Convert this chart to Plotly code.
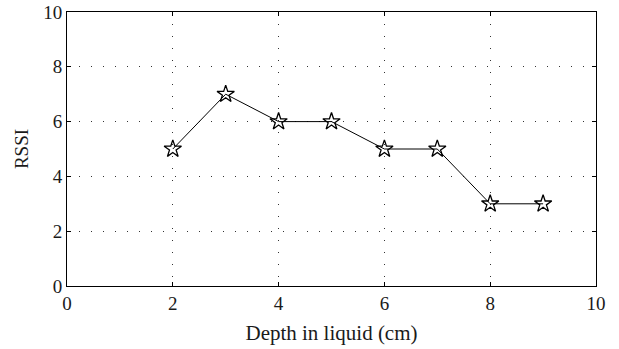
import plotly.graph_objects as go

depth = [2, 3, 4, 5, 6, 7, 8, 9]
rssi = [5, 7, 6, 6, 5, 5, 3, 3]
x_ticks = [0, 2, 4, 6, 8, 10]
y_ticks = [0, 2, 4, 6, 8, 10]

font = "Liberation Serif"
txt = "#1a1a1a"

fig = go.Figure()
fig.add_trace(go.Scatter(
    x=depth, y=rssi, mode="lines+markers",
    line=dict(color="black", width=1),
    marker=dict(symbol="star-open", size=13, color="black", line=dict(width=1.3, color="black")),
    showlegend=False,
))

axis_common = dict(
    showline=True, linecolor="black", linewidth=1, mirror="ticks",
    ticks="inside", ticklen=4, tickcolor="black", tickwidth=1,
    showgrid=True, gridcolor="#333333", gridwidth=1, griddash="1.3px,10.7px",
    zeroline=False, tickfont=dict(family=font, size=19, color=txt),
    automargin=False,
)

fig.update_xaxes(range=[0, 10], tickvals=x_ticks, ticktext=[str(v) for v in x_ticks],
                 title=dict(text="Depth in liquid (cm)", font=dict(family=font, size=21, color=txt), standoff=12),
                 ticklabeloverflow="allow",
                 **axis_common)
fig.update_yaxes(range=[0, 10.0001], tickvals=y_ticks, ticktext=[str(v) for v in y_ticks],
                 title=dict(text="RSSI", font=dict(family=font, size=19, color=txt), standoff=9),
                 ticklabeloverflow="allow",
                 **axis_common)

fig.update_layout(
    width=619, height=349,
    margin=dict(l=67, r=23, t=12, b=63),
    paper_bgcolor="white", plot_bgcolor="white",
)

fig.write_html("out.html")
